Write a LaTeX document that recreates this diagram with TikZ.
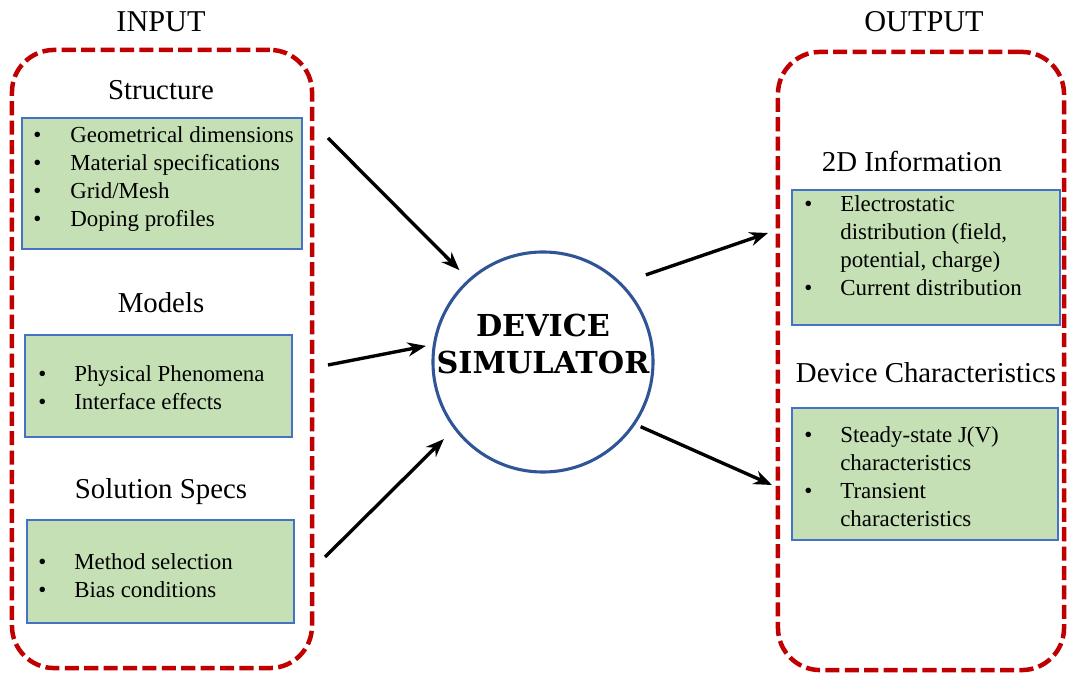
\documentclass[tikz,border=0pt]{standalone}
\usepackage{fontspec}
\setmainfont{Liberation Serif}
\newfontfamily\simfont{DejaVu Serif}
\usetikzlibrary{arrows.meta}
\definecolor{dashred}{RGB}{192,0,0}
\definecolor{boxgreen}{RGB}{197,224,180}
\definecolor{boxblue}{RGB}{68,114,196}
\definecolor{simblue}{RGB}{47,85,151}
\renewcommand{\arraystretch}{1}

\begin{document}
\begin{tikzpicture}[x=0.025cm, y=-0.025cm,
  group/.style={draw=dashred, line width=3.2pt, dash pattern=on 10pt off 3.8pt, rounded corners=30pt},
  infobox/.style={draw=boxblue, fill=boxgreen, line width=0.8pt},
  heading/.style={font=\fontsize{20.5}{24}\selectfont},
  items/.style={anchor=west, align=left, inner sep=0pt, font=\fontsize{16.3}{19.85}\selectfont},
  flow/.style={-{Stealth[length=13pt,width=10pt]}, line width=2.4pt}]
\useasboundingbox (0,0) rectangle (1067,681);

% Frames for input and output
\node[group, minimum width=7.5cm, minimum height=15.45cm] (inbox) at (162,359) {};
\node[group, minimum width=7.15cm, minimum height=15.45cm] (outbox) at (921,361) {};
\node[font=\fontsize{21.5}{25}\selectfont] (intitle) at (161,22) {INPUT};
\node[font=\fontsize{21.5}{25}\selectfont] (outtitle) at (924,22) {OUTPUT};

% Input blocks
\node[heading] (structtitle) at (161,90) {Structure};
\node[infobox, minimum width=7cm, minimum height=3.275cm] (structbox) at (162,183.5) {};
\node[items] (structlist) at (33,179) {\begin{tabular}{@{}p{0.925cm}@{}l@{}}
  \textbullet & Geometrical dimensions\\
  \textbullet & Material specifications\\
  \textbullet & Grid/Mesh\\
  \textbullet & Doping profiles
\end{tabular}};

\node[heading] (modeltitle) at (161,303) {Models};
\node[infobox, minimum width=6.675cm, minimum height=2.55cm] (modelbox) at (158.5,386) {};
\node[items] (modellist) at (38,390) {\begin{tabular}{@{}p{0.9cm}@{}l@{}}
  \textbullet & Physical Phenomena\\
  \textbullet & Interface effects
\end{tabular}};

\node[heading] (solvetitle) at (161,492) {Solution Specs};
\node[infobox, minimum width=6.675cm, minimum height=2.575cm] (solvebox) at (160.5,571.5) {};
\node[items] (solvelist) at (38,578) {\begin{tabular}{@{}p{0.9cm}@{}l@{}}
  \textbullet & Method selection\\
  \textbullet & Bias conditions
\end{tabular}};

% Simulator
\node[circle, draw=simblue, line width=2.2pt, minimum size=5.5cm] (sim) at (543,362) {};
\node[align=center, font=\simfont\bfseries\fontsize{21.5}{26.5}\selectfont] (simlabel) at (543,344) {DEVICE\\SIMULATOR};

% Output blocks
\node[heading] (infotitle) at (912,161) {2D Information};
\node[infobox, minimum width=6.7cm, minimum height=3.375cm] (infobox) at (926,257.5) {};
\node[items] (infolist) at (804,248) {\begin{tabular}{@{}p{0.9cm}@{}l@{}}
  \textbullet & Electrostatic\\
              & distribution (field,\\
              & potential, charge)\\
  \textbullet & Current distribution
\end{tabular}};

\node[heading] (chartitle) at (926,373) {Device Characteristics};
\node[infobox, minimum width=6.65cm, minimum height=3.3cm] (charbox) at (925,474) {};
\node[items] (charlist) at (804,479) {\begin{tabular}{@{}p{0.9cm}@{}l@{}}
  \textbullet & Steady-state J(V)\\
              & characteristics\\
  \textbullet & Transient\\
              & characteristics
\end{tabular}};

% Connectors
\coordinate (a1) at (328,138);
\coordinate (a2) at (328,365);
\coordinate (a3) at (325,557);
\coordinate (b1) at (768,233);
\coordinate (b2) at (772,485);
\draw[flow, shorten >=9pt] (a1) -- (sim.132);
\draw[flow, shorten >=5pt] (a2) -- (sim.171);
\draw[flow, shorten >=10pt] (a3) -- (sim.217);
\draw[flow, shorten <=18pt] (sim.45) -- (b1);
\draw[flow, shorten <=4pt] (sim.-34) -- (b2);
\end{tikzpicture}
\end{document}
